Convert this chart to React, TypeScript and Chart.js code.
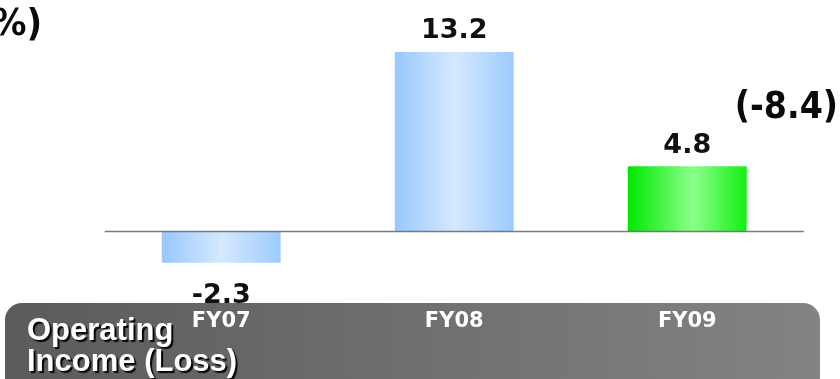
import React, { useEffect, useRef } from "react";
import { Chart, registerables } from "chart.js";

Chart.register(...registerables);

// Operating income (loss) by fiscal year, percent
const categories = ["FY07", "FY08", "FY09"];
const operatingIncome = [-2.3, 13.2, 4.8];
const barTones = ["blue", "blue", "green"];
const unitLabel = "%)";
const sideNote = "(-8.4)";
const rowTitle = ["Operating", "Income (Loss)"];
const yMin = -4;
const yMax = 15;

const W = 840;
const H = 379;
const BAR_SHARE = 0.51;

const toneStops: Record<string, [number, string][]> = {
  blue: [
    [0, "#97c7fc"],
    [0.5, "#d5e9ff"],
    [1, "#9ccbfd"],
  ],
  green: [
    [0, "#00e800"],
    [0.55, "#8cff8c"],
    [1, "#12f012"],
  ],
};

const CONDENSED = '"DejaVu Sans Condensed", "DejaVu Sans", sans-serif';

// Gray band behind the category labels
const bandPlugin = {
  id: "band",
  beforeDraw(chart: any) {
    const ctx = chart.ctx;
    const x0 = 5, x1 = 820, y0 = 303, y1 = H + 20, r = 17;
    const g = ctx.createLinearGradient(x0, 0, x1, 0);
    g.addColorStop(0, "#5b5b5b");
    g.addColorStop(1, "#838383");
    ctx.save();
    ctx.fillStyle = g;
    ctx.beginPath();
    ctx.moveTo(x0 + r, y0);
    ctx.lineTo(x1 - r, y0);
    ctx.arcTo(x1, y0, x1, y0 + r, r);
    ctx.lineTo(x1, y1);
    ctx.lineTo(x0, y1);
    ctx.lineTo(x0, y0 + r);
    ctx.arcTo(x0, y0, x0 + r, y0, r);
    ctx.closePath();
    ctx.fill();
    ctx.restore();
  },
};

// Baseline at zero, value labels and the surrounding captions
const overlayPlugin = {
  id: "overlay",
  afterDatasetsDraw(chart: any) {
    const ctx = chart.ctx;
    const area = chart.chartArea;
    const y0 = chart.scales.y.getPixelForValue(0);
    ctx.save();
    ctx.strokeStyle = "rgba(110,110,110,0.9)";
    ctx.lineWidth = 1.5;
    ctx.beginPath();
    ctx.moveTo(area.left, y0);
    ctx.lineTo(area.right, y0);
    ctx.stroke();
    ctx.restore();
  },
  afterDraw(chart: any) {
    const ctx = chart.ctx;
    const meta = chart.getDatasetMeta(0);
    ctx.save();
    ctx.fillStyle = "#111";
    ctx.textAlign = "center";
    ctx.textBaseline = "alphabetic";
    ctx.font = 'bold 27px "DejaVu Sans", sans-serif';
    meta.data.forEach((bar: any, i: number) => {
      const v = operatingIncome[i];
      const y = v >= 0 ? bar.y - 13.5 : bar.y + 40;
      ctx.fillText(v.toFixed(1), bar.x, y);
    });

    ctx.fillStyle = "#0a0a0a";
    ctx.textAlign = "right";
    ctx.font = `bold 38px ${CONDENSED}`;
    ctx.fillText(unitLabel, 42, 35);
    ctx.font = `bold 37px ${CONDENSED}`;
    ctx.fillText(sideNote, 838, 118);

    ctx.textAlign = "left";
    ctx.font = 'bold 31px "Liberation Sans", Arial, sans-serif';
    ctx.shadowColor = "rgba(0,0,0,0.95)";
    ctx.shadowOffsetX = 2;
    ctx.shadowOffsetY = 2;
    ctx.shadowBlur = 1;
    ctx.fillStyle = "#fff";
    ctx.fillText(rowTitle[0], 27, 340);
    ctx.fillText(rowTitle[1], 27, 371);
    ctx.restore();
  },
};

export default function App() {
  const ref = useRef<HTMLCanvasElement | null>(null);

  useEffect(() => {
    if (!ref.current) return;
    const chart = new Chart(ref.current, {
      type: "bar",
      data: {
        labels: categories,
        datasets: [
          {
            data: operatingIncome,
            barPercentage: BAR_SHARE,
            categoryPercentage: 1,
            borderWidth: 0,
            backgroundColor: (c: any) => {
              const ch = c.chart;
              const xs = ch.scales && ch.scales.x;
              const stops = toneStops[barTones[c.dataIndex]] || toneStops.blue;
              if (!xs || !ch.chartArea) return stops[1][1];
              const center = xs.getPixelForValue(c.dataIndex);
              const half = ((xs.width / categories.length) * BAR_SHARE) / 2;
              const g = ch.ctx.createLinearGradient(center - half, 0, center + half, 0);
              stops.forEach(([o, col]) => g.addColorStop(o, col));
              return g;
            },
          },
        ],
      },
      options: {
        responsive: false,
        animation: false,
        events: [],
        layout: {
          padding: { top: 27.5, bottom: 21.9, left: 104.7, right: 36.2 },
        },
        plugins: {
          legend: { display: false },
          tooltip: { enabled: false },
          title: { display: false },
        },
        scales: {
          x: {
            grid: { display: false, drawTicks: false },
            border: { display: false },
            ticks: {
              color: "#ffffff",
              padding: 23,
              font: { family: '"DejaVu Sans", sans-serif', weight: "bold", size: 21 },
            },
          },
          y: {
            display: false,
            min: yMin,
            max: yMax,
          },
        },
      },
      plugins: [bandPlugin, overlayPlugin],
    });
    return () => chart.destroy();
  }, []);

  return (
    <div style={{ position: "fixed", left: 0, top: 0, width: W, height: H, background: "#fff" }}>
      <canvas ref={ref} width={W} height={H} style={{ display: "block" }} />
    </div>
  );
}
